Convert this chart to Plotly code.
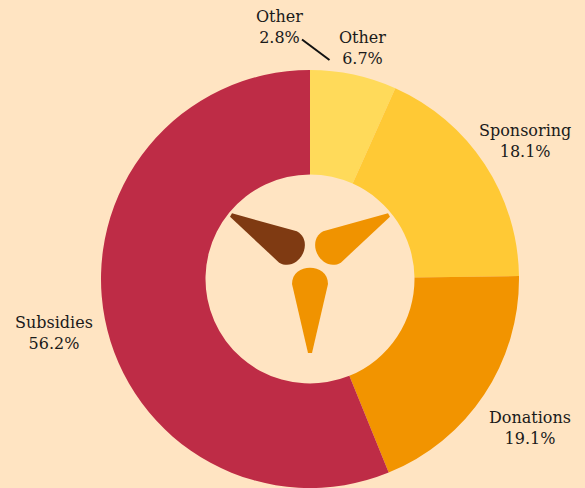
import plotly.graph_objects as go

# ---- data ----
labels = ["Other", "Sponsoring", "Donations", "Subsidies"]
values = [6.7, 18.1, 19.1, 56.2]
colors = ["#FFDA5A", "#FFC935", "#F29400", "#BE2C46"]
extra_label = "Other"
extra_value = 2.8

W, H = 585, 488
BG = "#FFE4C2"


def px(x):
    return x / W


def py(y):
    return 1 - y / H


fig = go.Figure()
fig.add_trace(go.Pie(
    labels=labels, values=values, sort=False, direction="clockwise", rotation=0,
    hole=0.5, marker=dict(colors=colors, line=dict(width=0)),
    textinfo="none", hoverinfo="label+percent", showlegend=False,
    domain=dict(x=[px(101), px(519)], y=[0, py(70)]),
))

# label annotations (positions chosen for layout, text from data)
label_pos = [(362, 48), (525, 141), (530, 428), (54, 333)]
annotations = []
for lab, val, (x, y) in zip(labels, values, label_pos):
    annotations.append(dict(x=px(x), y=py(y), xref="paper", yref="paper",
                            text=f"{lab}<br>{val:.1f}%", showarrow=False,
                            xanchor="center", yanchor="middle"))
annotations.append(dict(x=px(279), y=py(27), xref="paper", yref="paper",
                        text=f"{extra_label}<br>{extra_value:.1f}%", showarrow=False,
                        xanchor="center", yanchor="middle"))

shapes = [dict(type="line", xref="paper", yref="paper",
               x0=px(302), y0=py(39.5), x1=px(329.5), y1=py(60),
               line=dict(color="#111111", width=2))]


def blade(tip, base, w, color):
    tx, ty = tip
    bx, by = base
    dx, dy = bx - tx, by - ty
    L = (dx * dx + dy * dy) ** 0.5
    dx, dy = dx / L, dy / L
    nx, ny = -dy, dx
    p1 = (bx + nx * w / 2, by + ny * w / 2)
    p2 = (bx - nx * w / 2, by - ny * w / 2)
    k = w * 0.6
    c1 = (p1[0] + dx * k, p1[1] + dy * k)
    c2 = (p2[0] + dx * k, p2[1] + dy * k)
    t1 = (tx + nx * 2.0, ty + ny * 2.0)
    t2 = (tx - nx * 2.0, ty - ny * 2.0)

    def P(p):
        return f"{px(p[0]):.5f},{py(p[1]):.5f}"
    path = (f"M {P(t2)} L {P(t1)} L {P(p1)} C {P(c1)} {P(c2)} {P(p2)} Z")
    return dict(type="path", xref="paper", yref="paper", path=path,
                fillcolor=color, line=dict(width=0))


shapes.append(blade((231, 215), (288, 247), 36, "#7F3A12"))
shapes.append(blade((389, 215), (332, 247), 36, "#F09300"))
shapes.append(blade((310, 353), (310, 284), 36, "#F09300"))

fig.update_layout(
    width=W, height=H, margin=dict(l=0, r=0, t=0, b=0),
    paper_bgcolor=BG, plot_bgcolor=BG,
    font=dict(family="DejaVu Serif", size=16, color="#1A1A1A"),
    annotations=annotations, shapes=shapes,
)

fig.write_html(
    "out.html",
    config={"displayModeBar": False},
    post_script="document.body.style.margin='0';document.body.style.background='#FFE4C2';",
)
